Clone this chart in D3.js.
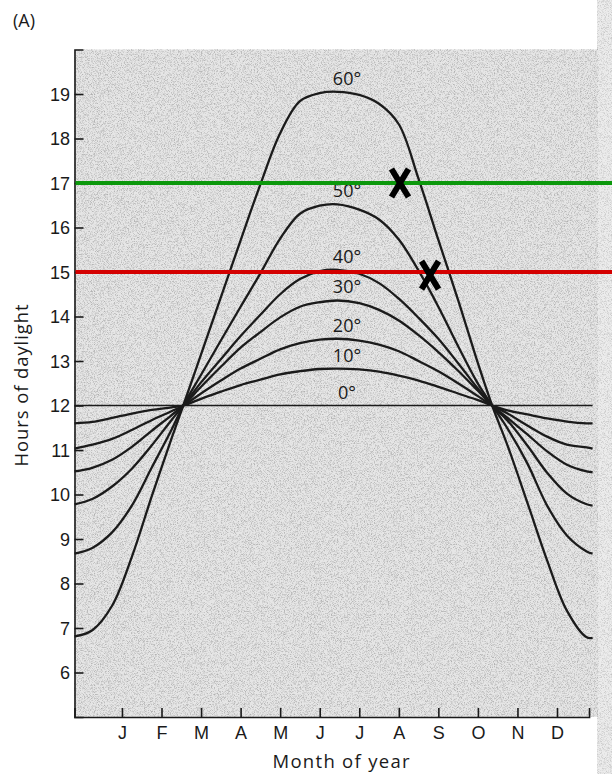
<!DOCTYPE html>
<head>
  <meta charset="UTF-8">
  <script src="https://d3js.org/d3.v7.min.js"></script>
  <style>
    body { margin: 0; background: #fff; }
    svg { display: block; font-family: "Open Sans", "Noto Sans", sans-serif; }
    .tick text { font-size: 18px; fill: #1a1a1a; }
    .axis path, .axis line { stroke: #1a1a1a; stroke-width: 1.6; }
  </style>
</head>
<body>
<svg></svg>

<script>

var width = 612, height = 774;

// month labels, latitude labels
var months = ["J","F","M","A","M","J","J","A","S","O","N","D"];
var latitudes = ["60°","50°","40°","30°","20°","10°","0°"];

// positions along the year (month units, J = 1) where the curves were read
var samplePos = [-0.2, 0.25, 0.75, 1.25, 1.75, 2.25, 2.55, 3, 3.5, 4, 4.5, 5, 5.5, 6, 6.45,
                 7, 7.5, 8, 8.5, 9, 9.5, 10, 10.36, 10.75, 11.25, 11.75, 12.25, 12.75, 12.9];

// hours of daylight, one array per latitude
var hours60 = [6.81, 6.95, 7.5, 8.6, 9.95, 11.25, 12.0, 13.15, 14.43, 15.71, 16.97, 18.12, 18.84, 19.02, 19.05,
               18.98, 18.78, 18.32, 17.09, 15.72, 14.37, 12.95, 12.0, 11.1, 9.82, 8.52, 7.39, 6.79, 6.78];
var hours50 = [8.67, 8.8, 9.15, 9.75, 10.6, 11.45, 12.0, 12.69, 13.46, 14.22, 14.97, 15.75, 16.31, 16.49, 16.52,
               16.4, 16.18, 15.73, 15.03, 14.22, 13.33, 12.49, 12.0, 11.48, 10.7, 9.75, 9.08, 8.72, 8.67];
var hours40 = [9.78, 9.9, 10.18, 10.58, 11.1, 11.67, 12.0, 12.52, 13.04, 13.56, 14.04, 14.5, 14.84, 15.02, 15.05,
               14.96, 14.75, 14.4, 13.97, 13.5, 12.95, 12.38, 12.0, 11.66, 11.1, 10.49, 10.02, 9.78, 9.75];
var hours30 = [10.52, 10.6, 10.78, 11.07, 11.43, 11.78, 12.0, 12.42, 12.87, 13.3, 13.65, 13.98, 14.22, 14.32, 14.36,
               14.3, 14.15, 13.91, 13.58, 13.2, 12.78, 12.33, 12.0, 11.72, 11.35, 10.97, 10.67, 10.52, 10.5];
var hours20 = [11.03, 11.12, 11.25, 11.45, 11.67, 11.87, 12.0, 12.27, 12.56, 12.83, 13.05, 13.26, 13.4, 13.48, 13.5,
               13.46, 13.37, 13.22, 13.0, 12.77, 12.5, 12.21, 12.0, 11.82, 11.55, 11.3, 11.12, 11.06, 11.03];
var hours10 = [11.6, 11.63, 11.72, 11.82, 11.9, 11.96, 12.0, 12.15, 12.31, 12.46, 12.58, 12.7, 12.77, 12.82, 12.83,
               12.81, 12.76, 12.67, 12.56, 12.42, 12.27, 12.12, 12.0, 11.89, 11.8, 11.71, 11.64, 11.6, 11.6];
var hours0  = [12, 12, 12, 12, 12, 12, 12, 12, 12, 12, 12, 12, 12, 12, 12,
               12, 12, 12, 12, 12, 12, 12, 12, 12, 12, 12, 12, 12, 12];

var series = [hours60, hours50, hours40, hours30, hours20, hours10, hours0];

// horizontal reference lines and the X marks
var refHours = [17, 15];
var refColors = ["#0c980c", "#d40000"];
var markMonth = [8.03, 8.79];
var markHours = [17, 14.93];

var labelMonth = 6.69;

var svg = d3.select("svg")
    .attr("width", width)
    .attr("height", height);

var x = d3.scaleLinear().domain([-0.2, 12.9]).range([74.5, 592.6]);
var y = d3.scaleLinear().domain([5, 20]).range([717, 49.5]);

// ---------- scanned paper texture
var defs = svg.append("defs");
var filt = defs.append("filter").attr("id", "speckle")
    .attr("x", 0).attr("y", 0).attr("width", "100%").attr("height", "100%");
filt.append("feTurbulence")
    .attr("type", "fractalNoise").attr("baseFrequency", 1.3)
    .attr("numOctaves", 1).attr("seed", 5);
filt.append("feColorMatrix").attr("type", "matrix")
    .attr("values", "0 0 0 0 0.2  0 0 0 0 0.2  0 0 0 0 0.2  -3 0 0 0 1.65");

// right page edge
svg.append("rect").attr("x", 597).attr("y", 0).attr("width", 15).attr("height", height)
    .attr("fill", "#ececec");
svg.append("rect").attr("x", 597).attr("y", 0).attr("width", 15).attr("height", height)
    .attr("filter", "url(#speckle)").attr("opacity", 0.35);

// plot background
svg.append("rect")
    .attr("x", x(-0.2)).attr("y", y(20))
    .attr("width", 598 - x(-0.2)).attr("height", y(5) - y(20))
    .attr("fill", "#e6e6e6");
svg.append("rect")
    .attr("x", x(-0.2)).attr("y", y(20))
    .attr("width", 598 - x(-0.2)).attr("height", y(5) - y(20))
    .attr("filter", "url(#speckle)")
    .attr("opacity", 0.5);

// ---------- axes
var yAxis = d3.axisLeft(y)
    .tickValues(d3.range(6, 20))
    .tickSize(-9)
    .tickSizeOuter(-9)
    .tickPadding(4.5);

svg.append("g")
    .attr("class", "axis")
    .attr("transform", "translate(" + x(-0.2) + ",0)")
    .call(yAxis)
    .selectAll("text").attr("dy", "0.36em");

var xEnd = 12.81;
var xAxisScale = x.copy().domain([-0.2, xEnd]).range([x(-0.2), x(xEnd)]);

var xAxis = d3.axisBottom(xAxisScale)
    .tickValues(d3.range(1, 13))
    .tickFormat(function (d) { return months[d - 1]; })
    .tickSize(-9)
    .tickSizeOuter(-9)
    .tickPadding(9.5);

svg.append("g")
    .attr("class", "axis")
    .attr("transform", "translate(0," + y(5) + ")")
    .call(xAxis);

// ---------- curves
var line = d3.line()
    .x(function (d, i) { return x(samplePos[i]); })
    .y(function (d) { return y(d); })
    .curve(d3.curveCatmullRom.alpha(0.5));

svg.append("g")
    .selectAll("path")
    .data(series)
    .enter().append("path")
    .attr("d", line)
    .attr("fill", "none")
    .attr("stroke", "#1b1b1b")
    .attr("stroke-width", function (d, i) { return i == 6 ? 1.6 : 2.3; });

// latitude labels above each peak
svg.append("g")
    .selectAll("text")
    .data(series)
    .enter().append("text")
    .attr("x", x(labelMonth))
    .attr("y", function (d) { return y(d3.max(d)) - 7; })
    .attr("text-anchor", "middle")
    .attr("font-size", 18)
    .attr("fill", "#1a1a1a")
    .text(function (d, i) { return latitudes[i]; });

// ---------- reference lines
svg.append("g")
    .selectAll("line")
    .data(refHours)
    .enter().append("line")
    .attr("x1", x(-0.2) + 1).attr("x2", width)
    .attr("y1", function (d) { return y(d); })
    .attr("y2", function (d) { return y(d); })
    .attr("stroke", function (d, i) { return refColors[i]; })
    .attr("stroke-width", 4);

// X marks
var marks = svg.append("g")
    .selectAll("g")
    .data(markMonth)
    .enter().append("g")
    .attr("transform", function (d, i) { return "translate(" + x(d) + "," + y(markHours[i]) + ")"; });

marks.append("path")
    .attr("d", "M-8.5,-14L8.5,14M8.5,-14L-8.5,14")
    .attr("stroke", "#000")
    .attr("stroke-width", 6)
    .attr("fill", "none");

// ---------- titles
svg.append("text")
    .attr("x", 13).attr("y", 27)
    .attr("font-size", 18)
    .attr("fill", "#1a1a1a")
    .text("(A)");

svg.append("text")
    .attr("transform", "translate(28," + y(12.45) + ") rotate(-90)")
    .attr("text-anchor", "middle")
    .attr("font-size", 18.5)
    .attr("textLength", 162)
    .attr("lengthAdjust", "spacing")
    .attr("fill", "#1a1a1a")
    .text("Hours of daylight");

svg.append("text")
    .attr("x", 341).attr("y", 768)
    .attr("text-anchor", "middle")
    .attr("font-size", 18.5)
    .attr("textLength", 137)
    .attr("lengthAdjust", "spacing")
    .attr("fill", "#1a1a1a")
    .text("Month of year");

</script>
</body>
